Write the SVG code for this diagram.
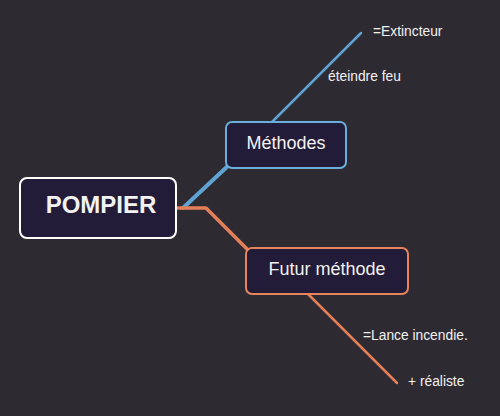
<svg xmlns="http://www.w3.org/2000/svg" width="500" height="416" viewBox="0 0 500 416">
<style>
.node{fill:#231c38;}
.t{font-family:"Liberation Sans",Arial,sans-serif;fill:#f2f2f2;}
.lbl{font-family:"Liberation Sans",Arial,sans-serif;fill:#f2f2f2;font-size:13.8px;}
</style>
<rect width="500" height="416" fill="#2e2a32"/>
<g id="connectors" fill="none" stroke-linecap="round" stroke-linejoin="round">
<path d="M183,208 L230,164" stroke="#5fa3d3" stroke-width="4"/>
<path d="M272,122 L361,33" stroke="#5fa3d3" stroke-width="2.5"/>
<path d="M176,208 L206,208 L250,252" stroke="#e47f57" stroke-width="3.5"/>
<path d="M308,294 L397,383" stroke="#e47f57" stroke-width="2.5"/>
</g>
<g id="pompier">
<rect x="20" y="178" width="156" height="60" rx="7" class="node" stroke="#ffffff" stroke-width="2"/>
<text x="101" y="213" class="t" font-size="24" font-weight="bold" text-anchor="middle">POMPIER</text>
</g>
<g id="methodes">
<rect x="226" y="122" width="120" height="46" rx="6" class="node" stroke="#6aaedb" stroke-width="2"/>
<text x="286" y="149" class="t" font-size="18" text-anchor="middle">Méthodes</text>
</g>
<g id="futur">
<rect x="246" y="248" width="162" height="46" rx="6" class="node" stroke="#e8845c" stroke-width="2"/>
<text x="327" y="275" class="t" font-size="18" text-anchor="middle">Futur méthode</text>
</g>
<g id="labels">
<text x="373" y="36" class="lbl">=Extincteur</text>
<text x="328" y="81" class="lbl">éteindre feu</text>
<text x="363" y="340" class="lbl">=Lance incendie.</text>
<text x="408" y="386" class="lbl">+ réaliste</text>
</g>
</svg>
